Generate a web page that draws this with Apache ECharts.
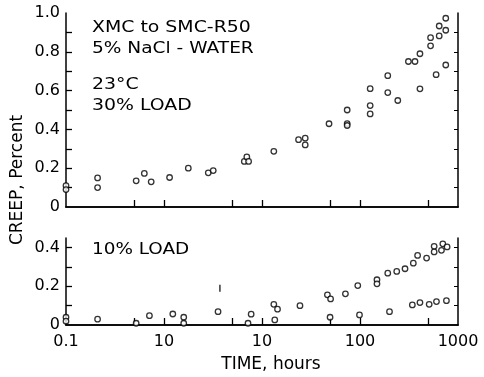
<!DOCTYPE html>
<html><head><meta charset="utf-8">
<script src="https://cdn.jsdelivr.net/npm/echarts@6/dist/echarts.min.js"></script>
<style>html,body{margin:0;padding:0;background:#fff}#c{width:484px;height:377px}</style>
</head><body><div id="c"></div>
<script>
// ---- data ----
const xLabelValues = [0.1, 1, 10, 100, 1000];
const xTickLabels = ['0.1', '10', '10', '100', '1000'];
const xTickValues = [0.5, 1, 5, 10, 50, 100, 500];
const yTopLabelValues = [0, 0.2, 0.4, 0.6, 0.8, 1.0];
const yTopLabels = ['0', '0.2', '0.4', '0.6', '0.8', '1.0'];
const yBotLabelValues = [0, 0.2, 0.4];
const yBotLabels = ['0', '0.2', '0.4'];
const yTopTicks = [0.1, 0.2, 0.3, 0.4, 0.5, 0.6, 0.7, 0.8, 0.9];
const yBotTicks = [0.1, 0.2, 0.3, 0.4];

// 30% load (top panel)
const load30Time = [0.1, 0.1, 0.21, 0.21, 0.52, 0.63, 0.74, 1.14, 1.77, 2.83, 3.18,
  6.6, 7.0, 7.3, 13.2, 23.6, 27.6, 27.6, 48.3, 74, 74, 74,
  127, 127, 127, 192, 192, 243, 312, 364, 409, 409, 525, 525, 598, 643, 643, 750, 750, 750];
const load30Creep = [0.11, 0.09, 0.15, 0.10, 0.135, 0.173, 0.13, 0.152, 0.20, 0.176, 0.188,
  0.235, 0.258, 0.235, 0.287, 0.347, 0.355, 0.32, 0.429, 0.50, 0.43, 0.42,
  0.61, 0.523, 0.48, 0.677, 0.59, 0.549, 0.75, 0.75, 0.79, 0.609, 0.873, 0.831, 0.682, 0.933, 0.882, 0.973, 0.911, 0.732];

// 10% load (bottom panel)
const load10Time = [0.1, 0.1, 0.21, 0.52, 0.71, 1.23, 1.59, 1.59, 3.56, 7.2, 7.75,
  13.2, 14.4, 13.5, 24.4, 46.5, 50.1, 49.5, 71, 94.9, 98.8, 149, 149, 192, 200,
  237, 288, 350, 387, 342, 409, 478, 508, 603, 571, 571, 678, 700, 774, 762];
const load10Creep = [0.04, 0.02, 0.03, 0.009, 0.048, 0.057, 0.04, 0.009, 0.069, 0.009, 0.056,
  0.107, 0.082, 0.026, 0.10, 0.156, 0.135, 0.04, 0.161, 0.204, 0.052, 0.234, 0.213, 0.268, 0.069,
  0.277, 0.291, 0.32, 0.36, 0.104, 0.116, 0.346, 0.107, 0.121, 0.407, 0.378, 0.386, 0.42, 0.404, 0.126];

// stray vertical mark in lower panel
const markTime = [3.72];
const markCreep = [0.19];

// ---- chart ----
const FONT = 'DejaVu Sans';
const zip = (a, b) => a.map((v, i) => [v, b[i]]);
const chart = echarts.init(document.getElementById('c'), null, {renderer: 'canvas'});
const axLine = {show: true, lineStyle: {color: '#000', width: 1.5}};
const grids = [
  {left: 66, right: 26, top: 13, height: 194},
  {left: 66, right: 26, top: 238, height: 87}
];
function xAx(gi, showLabels) {
  return {
    type: 'log', logBase: 10, min: 0.1, max: 1000, gridIndex: gi,
    axisLine: axLine, splitLine: {show: false},
    axisTick: {show: true, inside: true, length: 7, customValues: xTickValues, lineStyle: {color: '#000', width: 1.3}},
    minorTick: {show: false},
    axisLabel: showLabels ? {
      show: true, customValues: xLabelValues, margin: 9, color: '#000',
      fontFamily: FONT, fontSize: 16,
      formatter: v => { const i = xLabelValues.findIndex(x => Math.abs(Math.log10(x) - Math.log10(v)) < 1e-6); return i >= 0 ? xTickLabels[i] : ''; }
    } : {show: false}
  };
}
function xTopAx(gi) {
  return {type: 'log', logBase: 10, min: 0.1, max: 1000, gridIndex: gi, position: 'top',
    axisLine: axLine, axisTick: {show: false}, axisLabel: {show: false}, splitLine: {show: false}};
}
function yAx(gi, max, ticks, lv, lt) {
  return {
    type: 'value', min: 0, max: max, gridIndex: gi,
    axisLine: axLine, splitLine: {show: false},
    axisTick: {show: true, inside: true, length: 6, customValues: ticks, lineStyle: {color: '#000', width: 1.3}},
    axisLabel: {show: true, customValues: lv, margin: 6, color: '#000', fontFamily: FONT, fontSize: 16,
      formatter: v => { const i = lv.findIndex(x => Math.abs(x - v) < 1e-6); return i >= 0 ? lt[i] : ''; }}
  };
}
function yRightAx(gi, max, ticks) {
  return {type: 'value', min: 0, max: max, gridIndex: gi, position: 'right',
    axisLine: axLine, splitLine: {show: false},
    axisTick: {show: true, inside: true, length: 4, customValues: ticks, lineStyle: {color: '#000', width: 1}},
    axisLabel: {show: false}};
}
const circ = {symbol: 'circle', symbolSize: 5.5, itemStyle: {color: '#fff', borderColor: '#000', borderWidth: 1.3}};
const txt = (t, x, y, size, sx) => ({type: 'text', x: x, y: y, scaleX: sx || 1,
  style: {text: t, fill: '#000', font: size + 'px "' + FONT + '"', textVerticalAlign: 'middle', textAlign: 'left'}});
chart.setOption({
  animation: false,
  backgroundColor: '#fff',
  grid: grids,
  xAxis: [xAx(0, false), xAx(1, true), xTopAx(0), xTopAx(1)],
  yAxis: [yAx(0, 1.0, yTopTicks, yTopLabelValues, yTopLabels), yAx(1, 0.45, yBotTicks, yBotLabelValues, yBotLabels),
          yRightAx(0, 1.0, yTopTicks), yRightAx(1, 0.45, yBotTicks)],
  series: [
    Object.assign({type: 'scatter', xAxisIndex: 0, yAxisIndex: 0, clip: false, data: zip(load30Time, load30Creep)}, circ),
    Object.assign({type: 'scatter', xAxisIndex: 1, yAxisIndex: 1, clip: false, data: zip(load10Time, load10Creep)}, circ),
    {type: 'scatter', xAxisIndex: 1, yAxisIndex: 1, symbol: 'rect', symbolSize: [1.5, 7],
     itemStyle: {color: '#000'}, data: zip(markTime, markCreep)}
  ],
  graphic: [
    txt('XMC to SMC-R50', 92, 28, 16, 1.18),
    txt('5% NaCl - WATER', 92, 49, 16, 1.16),
    txt('23°C', 92, 85, 16, 1.18),
    txt('30% LOAD', 92, 106, 16, 1.18),
    txt('10% LOAD', 92, 250, 16, 1.15),
    {type: 'text', x: 18, y: 180, rotation: Math.PI / 2,
     style: {text: 'CREEP, Percent', fill: '#000', font: '17px "' + FONT + '"', textVerticalAlign: 'middle', textAlign: 'center'}},
    {type: 'text', x: 271, y: 365, style: {text: 'TIME, hours', fill: '#000', font: '17px "' + FONT + '"', textVerticalAlign: 'middle', textAlign: 'center'}}
  ]
});
</script></body></html>
